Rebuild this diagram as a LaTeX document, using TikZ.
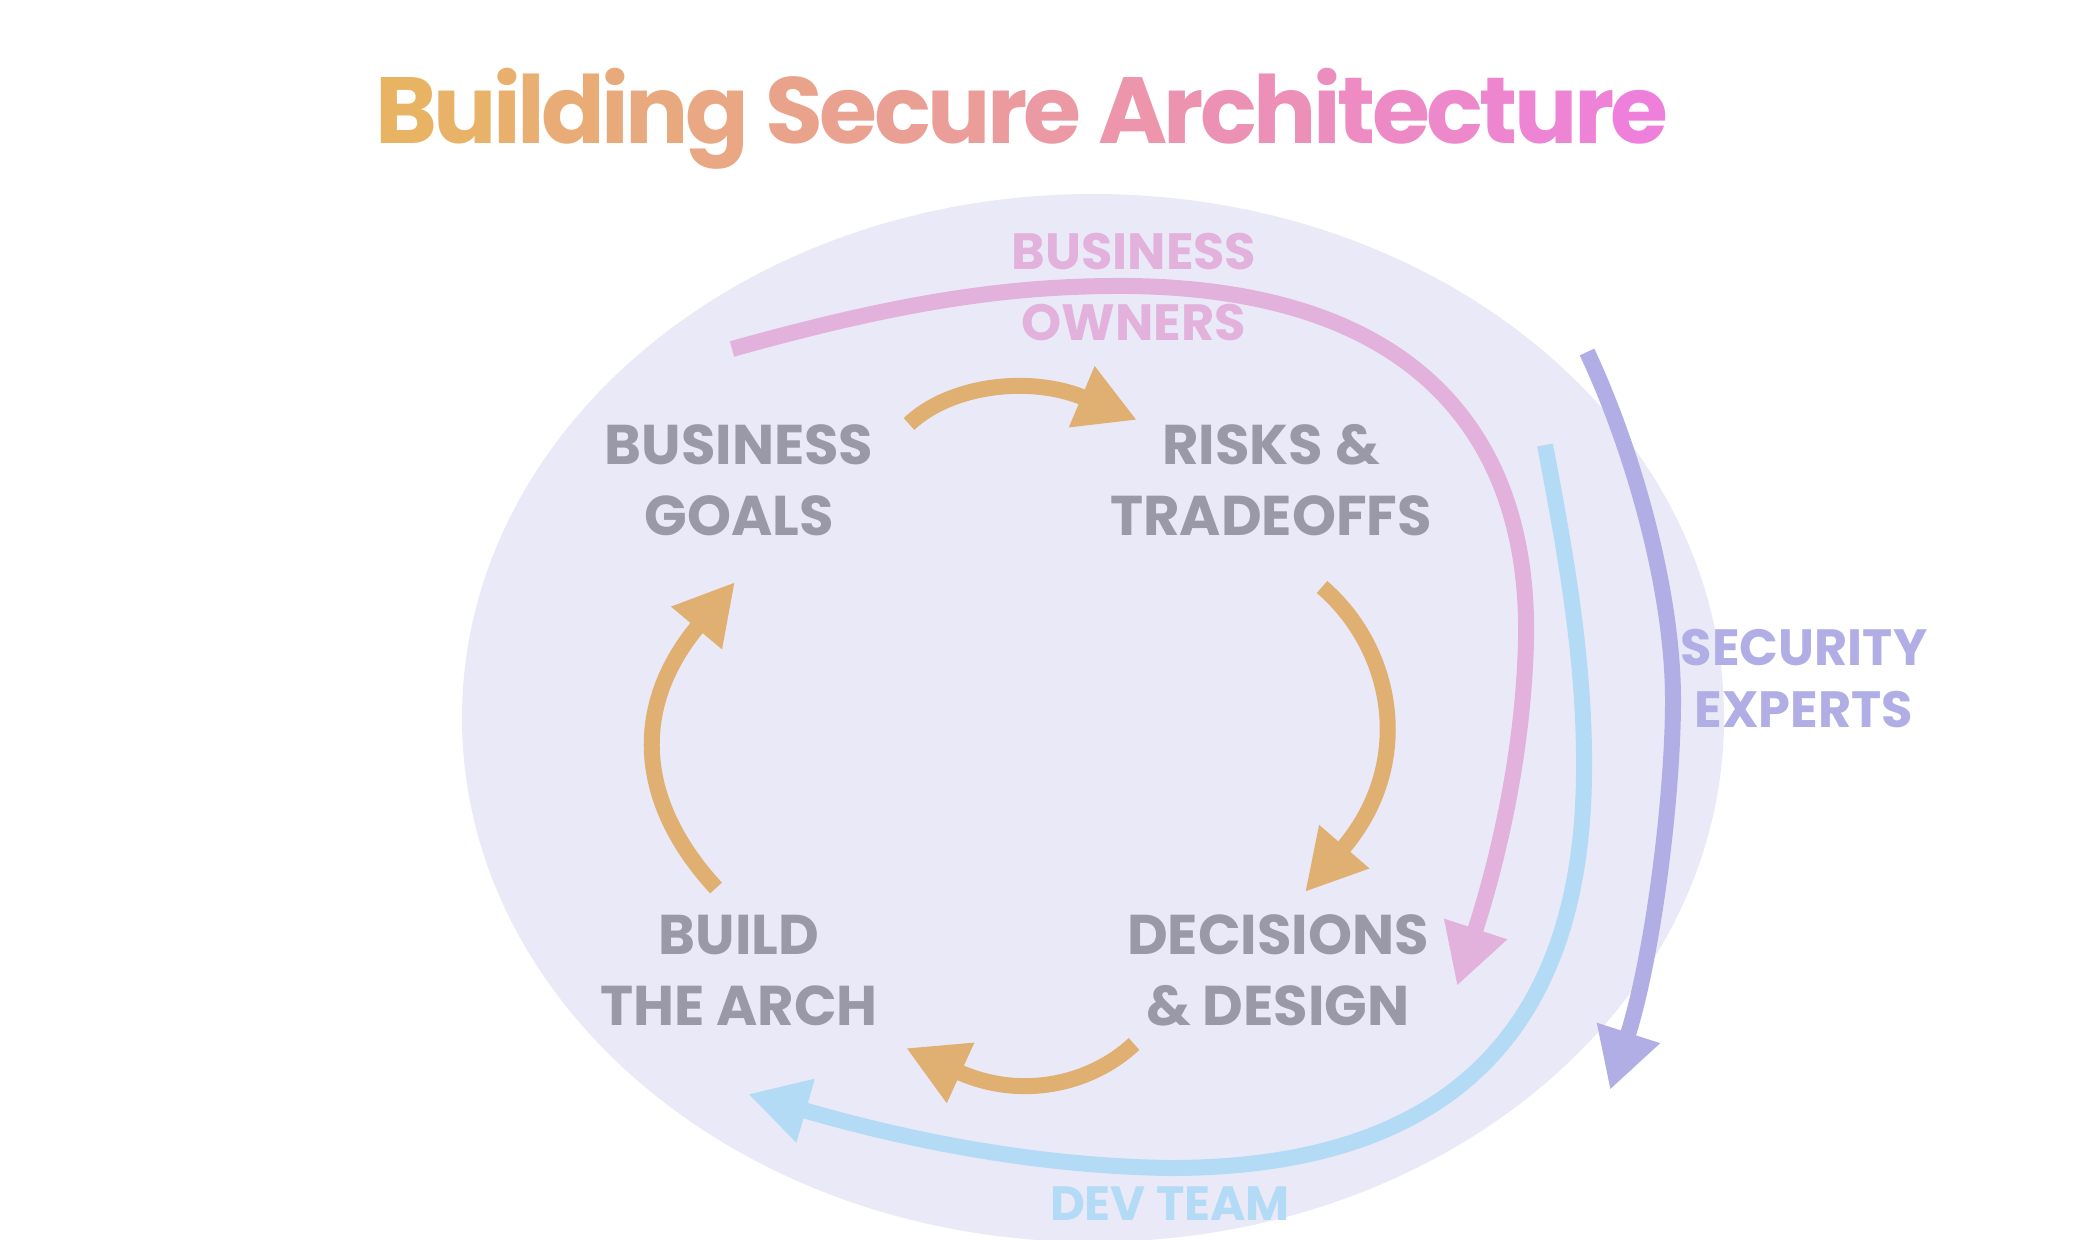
\documentclass[tikz,border=0pt]{standalone}
\usepackage{fontspec}
\setmainfont{Poppins}
\usepackage{xcolor}
\usetikzlibrary{arrows.meta}

\definecolor{ovalbg}{HTML}{EAE9F7}
\definecolor{stepgray}{HTML}{9A99A7}
\definecolor{flow}{HTML}{E0B072}
\definecolor{ownpink}{HTML}{E2B2DC}
\definecolor{devblue}{HTML}{B4DBF5}
\definecolor{secpurple}{HTML}{B1AEE6}
\definecolor{ttlA}{HTML}{E8B464}
\definecolor{ttlB}{HTML}{EE80DC}

% one letter of the title, #1 = percent of the pink end, set a bit tight
\newcommand{\gl}[2]{\textcolor{ttlB!#1!ttlA}{#2}\kern-1.8pt\relax}

\begin{document}
\begin{tikzpicture}[
  x=0.5pt, y=-0.5pt,
  stage/.style={text=stepgray, align=center,
                font=\fontsize{28}{35.5}\selectfont\bfseries},
  role/.style ={align=center, font=\fontsize{25.5}{35.5}\selectfont\bfseries},
  tip/.style  ={-{Triangle[length=30pt,width=31pt]}},
  cyc/.style  ={draw=flow, line width=8pt, tip},
  band/.style ={line width=8pt, tip}
]
\useasboundingbox (0,0) rectangle (2096,1240);

% backdrop
\fill[ovalbg] (1093,718) ellipse [x radius=631, y radius=524];

% title
\node[anchor=base, font=\fontsize{47}{50}\selectfont\bfseries] (title) at (1020,144)
  {\gl{0}{B}\gl{4}{u}\gl{7}{i}\gl{11}{l}\gl{15}{d}\gl{19}{i}\gl{22}{n}\gl{26}{g} %
   \gl{33}{S}\gl{37}{e}\gl{41}{c}\gl{44}{u}\gl{48}{r}\gl{52}{e} %
   \gl{59}{A}\gl{63}{r}\gl{67}{c}\gl{70}{h}\gl{74}{i}\gl{78}{t}\gl{81}{e}\gl{85}{c}\gl{89}{t}\gl{93}{u}\gl{96}{r}\gl{100}{e}};

% the four steps
\node[stage] (goals)  at (739,480)  {BUSINESS\\GOALS};
\node[stage] (risks)  at (1271,480) {RISKS \&\\TRADEOFFS};
\node[stage] (build)  at (739,970)  {BUILD\\THE ARCH};
\node[stage] (design) at (1278,970) {DECISIONS\\\& DESIGN};

% who is involved
\node[role, text=ownpink]   (owners)   at (1134,287)  {BUSINESS\\OWNERS};
\node[role, text=secpurple, font=\fontsize{25.5}{31}\selectfont\bfseries]
                            (security) at (1804,679)  {SECURITY\\EXPERTS};
\node[role, text=devblue, font=\fontsize{24}{30}\selectfont\bfseries]
                            (devteam)  at (1170,1204) {DEV TEAM};

% ends of the arrows
\coordinate (g2r-a) at (909,424);   \coordinate (g2r-b) at (1137,420);
\coordinate (r2d-a) at (1322,587);  \coordinate (r2d-b) at (1305,892);
\coordinate (d2b-a) at (1134,1044); \coordinate (d2b-b) at (906,1048);
\coordinate (b2g-a) at (716,888);   \coordinate (b2g-b) at (735,582);
\coordinate (own-a) at (732,349);   \coordinate (own-b) at (1457,986);
\coordinate (dev-a) at (1545,445);  \coordinate (dev-b) at (748,1094);
\coordinate (sec-a) at (1587,352);  \coordinate (sec-b) at (1610,1090);

% cycle
\draw[cyc] (g2r-a) .. controls (950,385) and (1030,375) .. (g2r-b);
\draw[cyc] (r2d-a) .. controls (1395,650) and (1415,765) .. (r2d-b);
\draw[cyc] (d2b-a) .. controls (1090,1085) and (1020,1100) .. (d2b-b);
\draw[cyc] (b2g-a) .. controls (635,800) and (632,705) .. (b2g-b);

% outer bands
\draw[band, draw=ownpink] (own-a) .. controls (900,302) and (1010,285) .. (1130,286)
  .. controls (1420,290) and (1530,440) .. (1526,640)
  .. controls (1523,770) and (1490,885) .. (own-b);
\draw[band, draw=devblue] (dev-a) .. controls (1565,550) and (1585,660) .. (1584,770)
  .. controls (1583,1090) and (1380,1168) .. (1170,1168)
  .. controls (1030,1166) and (900,1138) .. (dev-b);
\draw[band, draw=secpurple] (sec-a) .. controls (1633,450) and (1673,590) .. (1673,700)
  .. controls (1673,800) and (1652,960) .. (sec-b);
\end{tikzpicture}
\end{document}
